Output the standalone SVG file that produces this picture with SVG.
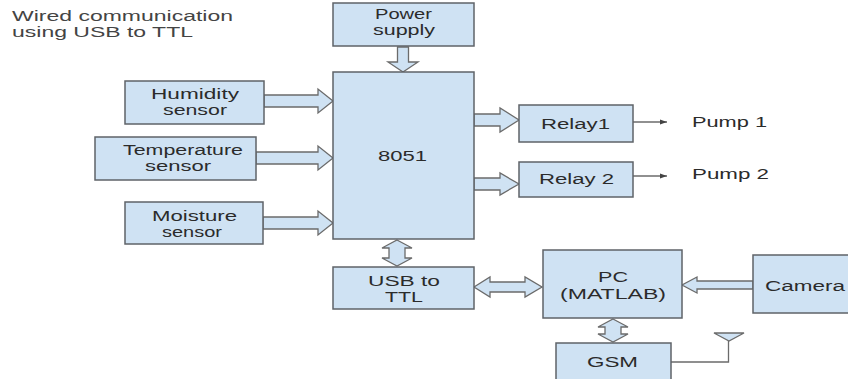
<svg xmlns="http://www.w3.org/2000/svg" width="848" height="379" viewBox="0 0 848 379">
<style>
.box{fill:#cfe2f3;stroke:#5f6368;stroke-width:1.5}
.arr{fill:#cfe2f3;stroke:#6b6b6b;stroke-width:1.3;stroke-linejoin:miter}
.ln{fill:none;stroke:#6b6b6b;stroke-width:1.3}
text{font-family:"Liberation Sans",Arial,sans-serif;font-size:14px;fill:#2b2b2b}
.title{fill:#444}
</style>
<defs>
<marker id="ah" markerWidth="8" markerHeight="6" refX="7" refY="3" orient="auto" markerUnits="userSpaceOnUse">
<path d="M0,0.5 L7,3 L0,5.5 Z" fill="#444"/>
</marker>
</defs>
<rect width="848" height="379" fill="#ffffff"/>
<g id="title">
<text class="title" x="12" y="21" textLength="221" lengthAdjust="spacingAndGlyphs">Wired communication</text>
<text class="title" x="12" y="37" textLength="181" lengthAdjust="spacingAndGlyphs">using USB to TTL</text>
</g>
<g id="connectors">
<path class="arr" d="M397.5,47 H408.5 V62 H418 L403,72 L388,62 H397.5 Z"/>
<path class="arr" d="M264,95 H318 V89 L333,101 L318,113 V107 H264 Z"/>
<path class="arr" d="M256,152 H318 V146 L333,158 L318,170 V164 H256 Z"/>
<path class="arr" d="M263,217 H318 V211 L333,223 L318,235 V229 H263 Z"/>
<path class="arr" d="M474,114 H500 V108 L519,120 L500,132 V126 H474 Z"/>
<path class="arr" d="M474,178 H500 V173 L519,184 L500,195 V190 H474 Z"/>
<path class="arr" d="M753,281 H697 V277 L682,285 L697,293 V289 H753 Z"/>
<path class="arr" d="M397,240 L412,248 H405 V258 H412 L397,266 L382,258 H389 V248 H382 Z"/>
<path class="arr" d="M474,287 L490,277 V282 H525 V277 L542,287 L525,297 V292 H490 V297 Z"/>
<path class="arr" d="M613,319 L628,327 H621 V334 H628 L613,342 L598,334 H605 V327 H598 Z"/>
<line class="ln" x1="633" y1="122" x2="667" y2="122" marker-end="url(#ah)"/>
<line class="ln" x1="633" y1="176" x2="667" y2="176" marker-end="url(#ah)"/>
<polyline class="ln" points="671,362 728.5,362 728.5,341"/>
<polygon class="arr" points="714,333 744,333 729,341"/>
</g>
<g id="power">
<rect class="box" x="333" y="3" width="141" height="43"/>
<text x="375" y="19" textLength="57" lengthAdjust="spacingAndGlyphs">Power</text>
<text x="373" y="35" textLength="62" lengthAdjust="spacingAndGlyphs">supply</text>
</g>
<g id="mcu">
<rect class="box" x="333" y="72" width="141" height="167"/>
<text x="378" y="161" textLength="49" lengthAdjust="spacingAndGlyphs">8051</text>
</g>
<g id="humidity">
<rect class="box" x="125" y="81" width="139" height="43"/>
<text x="151" y="99" textLength="88" lengthAdjust="spacingAndGlyphs">Humidity</text>
<text x="163" y="115" textLength="64" lengthAdjust="spacingAndGlyphs">sensor</text>
</g>
<g id="temperature">
<rect class="box" x="95" y="137" width="161" height="43"/>
<text x="123" y="155" textLength="120" lengthAdjust="spacingAndGlyphs">Temperature</text>
<text x="145" y="171" textLength="66" lengthAdjust="spacingAndGlyphs">sensor</text>
</g>
<g id="moisture">
<rect class="box" x="125" y="202" width="138" height="42"/>
<text x="152" y="221" textLength="85" lengthAdjust="spacingAndGlyphs">Moisture</text>
<text x="162" y="237" textLength="60" lengthAdjust="spacingAndGlyphs">sensor</text>
</g>
<g id="usbttl">
<rect class="box" x="333" y="267" width="141" height="42"/>
<text x="368" y="286" textLength="72" lengthAdjust="spacingAndGlyphs">USB to</text>
<text x="385" y="302" textLength="38" lengthAdjust="spacingAndGlyphs">TTL</text>
</g>
<g id="relay1">
<rect class="box" x="519" y="105" width="114" height="37"/>
<text x="541" y="129" textLength="69" lengthAdjust="spacingAndGlyphs">Relay1</text>
</g>
<g id="relay2">
<rect class="box" x="519" y="162" width="114" height="35"/>
<text x="539" y="184" textLength="75" lengthAdjust="spacingAndGlyphs">Relay 2</text>
</g>
<g id="pump1">
<text x="692" y="127" textLength="75" lengthAdjust="spacingAndGlyphs">Pump 1</text>
</g>
<g id="pump2">
<text x="692" y="179" textLength="77" lengthAdjust="spacingAndGlyphs">Pump 2</text>
</g>
<g id="pc">
<rect class="box" x="543" y="250" width="139" height="68"/>
<text x="598" y="282" textLength="30" lengthAdjust="spacingAndGlyphs">PC</text>
<text x="560" y="299" textLength="106" lengthAdjust="spacingAndGlyphs">(MATLAB)</text>
</g>
<g id="camera">
<rect class="box" x="753" y="255" width="110" height="58"/>
<text x="765" y="291" textLength="80" lengthAdjust="spacingAndGlyphs">Camera</text>
</g>
<g id="gsm">
<rect class="box" x="556" y="343" width="115" height="40"/>
<text x="587" y="367" textLength="51" lengthAdjust="spacingAndGlyphs">GSM</text>
</g>
</svg>
